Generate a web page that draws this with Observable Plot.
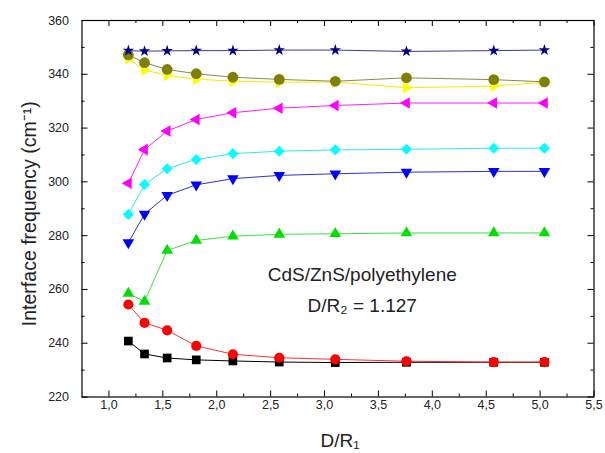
<!DOCTYPE html>
<html>
<head>
<meta charset="utf-8">
<script src="https://cdn.jsdelivr.net/npm/d3@7"></script>
<script src="https://cdn.jsdelivr.net/npm/@observablehq/plot@0.6"></script>
<style>
  html, body { margin: 0; padding: 0; background: #fff; }
  #chart svg { display: block; }
</style>
</head>
<body>
<div id="chart"></div>
<script>
// ---- data ----
const xValues      = [1.18, 1.33, 1.54, 1.81, 2.15, 2.58, 3.10, 3.76, 4.57, 5.04];
const navyStars    = [348.8, 348.6, 348.7, 348.8, 348.8, 349.0, 349.0, 348.5, 348.8, 349.0];
const oliveCircles = [347.2, 344.3, 341.8, 340.2, 338.9, 338.1, 337.4, 338.7, 338.0, 337.2];
const yellowRight  = [345.8, 341.6, 339.6, 338.2, 337.4, 337.1, 337.1, 335.0, 335.6, 337.0];
const magentaLeft  = [299.5, 312.0, 318.9, 323.2, 325.7, 327.4, 328.4, 329.3, 329.3, 329.3];
const cyanDiamonds = [287.9, 299.0, 304.9, 308.3, 310.5, 311.4, 311.9, 312.1, 312.5, 312.5];
const blueDown     = [277.4, 288.0, 295.0, 298.9, 301.2, 302.4, 303.0, 303.6, 303.9, 303.9];
const greenUp      = [258.5, 255.5, 274.5, 278.2, 279.8, 280.5, 280.7, 281.0, 281.0, 281.0];
const redCircles   = [254.4, 247.6, 244.8, 239.0, 235.9, 234.6, 234.0, 233.3, 233.0, 233.0];
const blackSquares = [240.8, 236.0, 234.5, 233.8, 233.4, 233.0, 232.8, 232.9, 232.9, 232.9];

const xMajorTicks = [1.0, 1.5, 2.0, 2.5, 3.0, 3.5, 4.0, 4.5, 5.0, 5.5];
const xMinorTicks = [1.25, 1.75, 2.25, 2.75, 3.25, 3.75, 4.25, 4.75, 5.25];
const yMajorTicks = [220, 240, 260, 280, 300, 320, 340, 360];
const yMinorTicks = [230, 250, 270, 290, 310, 330, 350];

const xTitle = "D/R\u2081";
const yTitle = "Interface frequency (cm\u207B\u00B9)";
const annotationLines = ["CdS/ZnS/polyethylene", "D/R\u2082 = 1.127"];

// ---- series styling (drawing order) ----
const series = [
  {name: "black",   values: blackSquares, color: "#000000", line: "#000000", symbol: "square",   rotate: 0,   r: 4.9},
  {name: "red",     values: redCircles,   color: "#ff0000", line: "#ff3030", symbol: "circle",   rotate: 0,   r: 5.1},
  {name: "green",   values: greenUp,      color: "#00e000", line: "#40e040", symbol: "triangle", rotate: 0,   r: 4.3},
  {name: "blue",    values: blueDown,     color: "#0000ff", line: "#3030d0", symbol: "triangle", rotate: 180, r: 4.3},
  {name: "cyan",    values: cyanDiamonds, color: "#00ffff", line: "#30e8e8", symbol: "diamond2", rotate: 0,   r: 5},
  {name: "magenta", values: magentaLeft,  color: "#ff00ff", line: "#ff20ff", symbol: "triangle", rotate: -90, r: 4.3},
  {name: "yellow",  values: yellowRight,  color: "#ffff00", line: "#f0f000", symbol: "triangle", rotate: 90,  r: 4.3},
  {name: "olive",   values: oliveCircles, color: "#808000", line: "#8a8a50", symbol: "circle",   rotate: 0,   r: 5.4},
  {name: "navy",    values: navyStars,    color: "#000080", line: "#3a3a90", symbol: "star",     rotate: 0,   r: 3.6}
];

const W = 605, H = 453;
const mL = 81.5, mR = 11.5, mT = 20, mB = 56.5;
const innerW = W - mL - mR, innerH = H - mT - mB;
const fmtX = d => d.toFixed(1).replace(".", ",");

const seriesMarks = series.flatMap(s => {
  const rows = s.values.map((v, i) => ({x: xValues[i], y: v}));
  return [
    Plot.line(rows, {x: "x", y: "y", stroke: s.line, strokeWidth: 1}),
    Plot.dot(rows, {x: "x", y: "y", symbol: s.symbol, r: s.r, rotate: s.rotate, fill: s.color, stroke: "none"})
  ];
});

const annotation = [
  {x: 3.35, y: 263.0, text: annotationLines[0]},
  {x: 3.35, y: 251.5, text: annotationLines[1]}
];

const chart = Plot.plot({
  width: W,
  height: H,
  marginLeft: mL, marginRight: mR, marginTop: mT, marginBottom: mB,
  style: {fontFamily: "'Liberation Sans', Arial, sans-serif", background: "#fff", color: "#222"},
  x: {domain: [0.75, 5.5], axis: null},
  y: {domain: [220, 360], axis: null},
  marks: [
    ...seriesMarks,
    // inward ticks on all four sides
    Plot.tickX(xMajorTicks, {x: d => d, insetTop: innerH - 6, stroke: "#000"}),
    Plot.tickX(xMajorTicks, {x: d => d, insetBottom: innerH - 6, stroke: "#000"}),
    Plot.tickX(xMinorTicks, {x: d => d, insetTop: innerH - 3, stroke: "#000"}),
    Plot.tickX(xMinorTicks, {x: d => d, insetBottom: innerH - 3, stroke: "#000"}),
    Plot.tickY(yMajorTicks, {y: d => d, insetRight: innerW - 6, stroke: "#000"}),
    Plot.tickY(yMajorTicks, {y: d => d, insetLeft: innerW - 6, stroke: "#000"}),
    Plot.tickY(yMinorTicks, {y: d => d, insetRight: innerW - 3, stroke: "#000"}),
    Plot.tickY(yMinorTicks, {y: d => d, insetLeft: innerW - 3, stroke: "#000"}),
    Plot.frame({stroke: "#000", strokeWidth: 1.2}),
    Plot.axisX(xMajorTicks, {tickSize: 0, tickPadding: 3, tickFormat: fmtX, fontSize: 12.5, label: null, fill: "#222"}),
    Plot.axisY(yMajorTicks, {tickSize: 0, tickPadding: 13, fontSize: 12.5, label: null, fill: "#222"}),
    Plot.text([xTitle], {frameAnchor: "bottom", lineAnchor: "bottom", textAnchor: "middle", dy: 49.5, dx: 2, fontSize: 19, fill: "#222"}),
    Plot.text([yTitle], {frameAnchor: "left", textAnchor: "middle", rotate: -90, dx: -52.5, dy: 5, fontSize: 19.5, fill: "#222"}),
    Plot.text(annotation, {x: "x", y: "y", text: "text", lineAnchor: "bottom", textAnchor: "middle", fontSize: 19, fill: "#222"})
  ]
});

document.getElementById("chart").appendChild(chart);
</script>
</body>
</html>
